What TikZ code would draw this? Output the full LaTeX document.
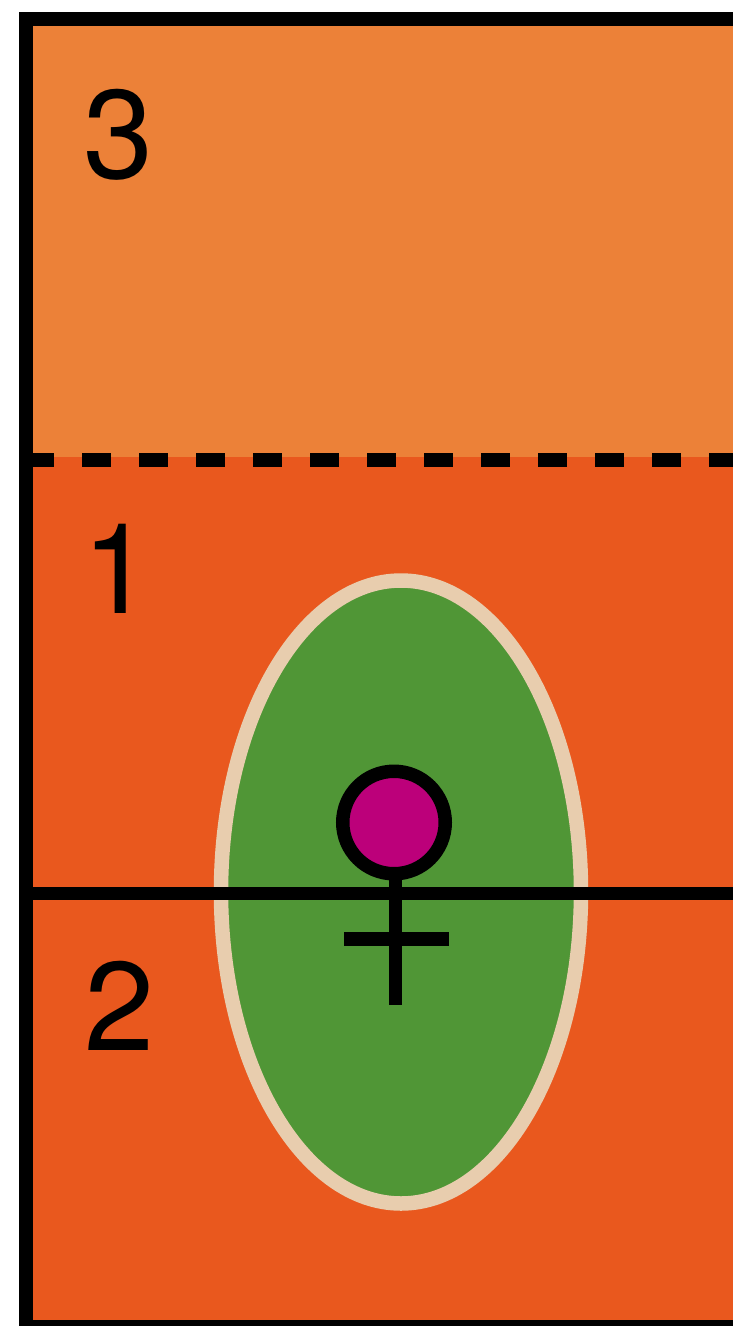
\documentclass[tikz,border=0pt]{standalone}
\usepackage{fontspec}
\usetikzlibrary{shapes.geometric}
\setmainfont{TeX Gyre Heros}
\definecolor{upper}{HTML}{EC8138}
\definecolor{lower}{HTML}{E9581E}
\definecolor{leaf}{HTML}{509636}
\definecolor{rim}{HTML}{E8CDAE}
\definecolor{bud}{HTML}{BC007A}
\tikzset{numeral/.style={inner sep=0pt,anchor=base,font=\fontsize{126}{126}\selectfont,text=black},
 heavy/.style={line width=13.5pt,black},
 mid/.style={line width=13pt,black}}
\begin{document}
\begin{tikzpicture}[x=1pt,y=-1pt]
\useasboundingbox (0,0) rectangle (733,1326);
\fill[white] (0,0) rectangle (733,1326);
\fill[upper] (26,19) rectangle (733,457);
\fill[lower] (26,457) rectangle (733,1320);
\draw[line width=13.5pt,black,dash pattern=on 29pt off 28pt] (25,460) -- (733,460);
\node[ellipse,draw=rim,fill=leaf,line width=14.5pt,minimum width=360pt,minimum height=623pt,inner sep=0pt] (pistil) at (401,892) {};
\draw[mid] (26,893.5) -- (733,893.5);
\coordinate (stemtop) at (395,870);
\coordinate (stemend) at (395,1005);
\draw[mid] (stemtop) -- (stemend);
\coordinate (barl) at (344,939);
\coordinate (barr) at (449,939);
\draw[line width=14pt] (barl) -- (barr);
\node[circle,draw=black,fill=bud,line width=13.5pt,minimum size=102.5pt,inner sep=0pt] (ovule) at (394,822.5) {};
\draw[heavy] (733,19) -- (25.75,19) -- (25.75,1326);
\fill[black] (19,1320) rectangle (733,1326);
\node[numeral] (three) at (119,178.5) {3};
\node[numeral] (one) at (118,613) {1};
\node[numeral] (two) at (120,1050) {2};
\end{tikzpicture}
\end{document}
